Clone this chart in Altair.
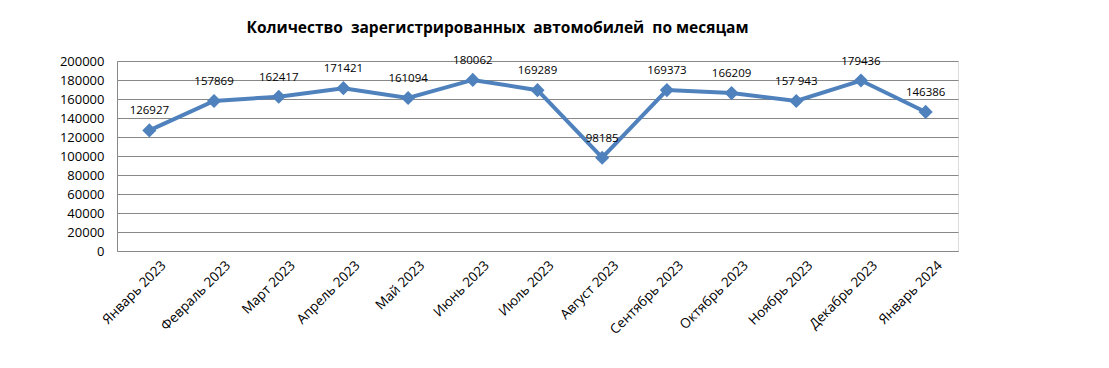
import altair as alt
import pandas as pd

months = ["Январь 2023", "Февраль 2023", "Март 2023", "Апрель 2023", "Май 2023",
          "Июнь 2023", "Июль 2023", "Август 2023", "Сентябрь 2023", "Октябрь 2023",
          "Ноябрь 2023", "Декабрь 2023", "Январь 2024"]
values = [126927, 157869, 162417, 171421, 161094, 180062, 169289, 98185,
          169373, 166209, 157943, 179436, 146386]
labels = ["126927", "157869", "162417", "171421", "161094", "180062", "169289",
          "98185", "169373", "166209", "157 943", "179436", "146386"]

df = pd.DataFrame({"month": months, "value": values, "label": labels})

FONT = "Open Sans"
COLOR = "#4F81BD"
NB = "\u00a0"
title_text = f"Количество {NB}зарегистрированных {NB}автомобилей {NB}по месяцам"

x = alt.X("month:N", sort=months, title=None,
          scale=alt.Scale(type="point", padding=0.5),
          axis=alt.Axis(labelAngle=-45, labelAlign="right", labelBaseline="top",
                        labelPadding=7, labelOffset=9, ticks=False,
                        domainColor="#888888", labelFont=FONT, labelFontSize=13.5,
                        labelColor="#000000", grid=False))
y = alt.Y("value:Q", title=None,
          scale=alt.Scale(domain=[0, 200000]),
          axis=alt.Axis(values=list(range(0, 200001, 20000)), format="d", ticks=False,
                        labelPadding=13, domainColor="#888888", gridColor="#888888",
                        gridWidth=1, labelFont=FONT, labelFontSize=13,
                        labelColor="#000000"))

base = alt.Chart(df).encode(x=x, y=y)

line = base.mark_line(color=COLOR, strokeWidth=4)
pts = base.mark_point(shape="diamond", filled=True, size=200, color=COLOR, opacity=1)
txt = base.mark_text(dy=-19, font=FONT, fontSize=11.5, color="#000000").encode(text="label:N")

chart = (line + pts + txt).properties(
    width=841, height=190,
    title=alt.TitleParams(title_text,
                          font=FONT, fontSize=15.5, fontWeight="bold", color="#000000",
                          anchor="middle", dx=-40, offset=18),
    autosize=alt.AutoSizeParams(type="none"),
    padding={"left": 109, "top": 53, "right": 143, "bottom": 109},
).configure_view(stroke=None).configure(background="white")

chart.save("out.html", embed_options={"renderer": "svg", "actions": False})
